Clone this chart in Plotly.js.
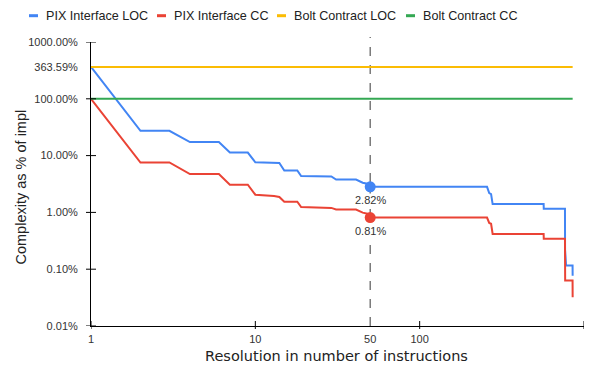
<!DOCTYPE html>
<html>
<head>
<meta charset="utf-8">
<script src="https://cdn.plot.ly/plotly-3.0.1.min.js"></script>
<style>html,body{margin:0;padding:0;background:#fff;}#chart{width:596px;height:365px;}</style>
</head>
<body>
<div id="chart"></div>
<script>
// ---- data ----
var seriesNames = ["PIX Interface LOC", "PIX Interface CC", "Bolt Contract LOC", "Bolt Contract CC"];
var seriesColors = ["#4285F4", "#EA4335", "#FBBC04", "#34A853"];

var pixLocX = [1, 2, 3, 4, 6, 7, 9, 10, 14, 15, 18, 19, 29, 31, 41, 45, 48, 50, 257, 265, 272, 278, 568, 569, 766, 767, 778, 852, 853];
var pixLocY = [363.59, 27.3, 27.3, 17.3, 17.3, 11.3, 11.3, 7.6, 7.4, 5.47, 5.47, 4.36, 4.3, 3.8, 3.78, 3.33, 3.2, 2.82, 2.82, 2.19, 2.1, 1.40, 1.40, 1.16, 1.16, 0.22, 0.116, 0.116, 0.077];

var pixCcX = [1, 2, 3, 4, 6, 7, 9, 10, 13, 14, 15, 18, 19, 29, 31, 41, 45, 48, 50, 257, 265, 272, 278, 568, 569, 766, 768, 852, 853];
var pixCcY = [100, 7.56, 7.56, 4.73, 4.73, 3.07, 3.07, 2.05, 1.95, 1.87, 1.54, 1.54, 1.24, 1.2, 1.13, 1.12, 0.99, 0.95, 0.81, 0.81, 0.652, 0.63, 0.417, 0.417, 0.345, 0.345, 0.063, 0.063, 0.032];

var boltX = [1, 853];
var boltLocY = [363.59, 363.59];
var boltCcY = [100, 100];

var markerX = [50, 50];
var markerY = [2.82, 0.81];
var markerLabels = ["2.82%", "0.81%"];
var markerColors = ["#4285F4", "#EA4335"];

var cutoffX = 50;

var xTickVals = [1, 10, 50, 100, 1000];
var xTickText = ["1", "10", "50", "100", "1000"];
var xTickMarks = [1, 10, 100, 1000];
var yTickVals = [0.01, 0.1, 1, 10, 100, 363.59, 1000];
var yTickText = ["0.01%", "0.10%", "1.00%", "10.00%", "100.00%", "363.59%", "1000.00%"];
var yTickMarks = [0.01, 0.1, 1, 10, 100, 1000];

var xTitle = "Resolution in number of instructions";
var yTitle = "Complexity as % of impl";

// ---- layout geometry ----
var W = 596, H = 365;
var M = {l: 91, r: 12, t: 42, b: 39};
var plotW = W - M.l - M.r, plotH = H - M.t - M.b;
function px2paperX(px) { return (px - M.l) / plotW; }
function px2paperY(py) { return (H - M.b - py) / plotH; }

var FONT = "Liberation Sans, Arial, sans-serif";

var traces = [
  {x: pixLocX, y: pixLocY, name: seriesNames[0], mode: "lines", line: {color: seriesColors[0], width: 2}, showlegend: false},
  {x: pixCcX, y: pixCcY, name: seriesNames[1], mode: "lines", line: {color: seriesColors[1], width: 2}, showlegend: false},
  {x: boltX, y: boltLocY, name: seriesNames[2], mode: "lines", line: {color: seriesColors[2], width: 2}, showlegend: false},
  {x: boltX, y: boltCcY, name: seriesNames[3], mode: "lines", line: {color: seriesColors[3], width: 2}, showlegend: false},
  {x: markerX, y: markerY, mode: "markers", name: "cutoff",
   marker: {color: markerColors, size: 11}, showlegend: false, hoverinfo: "skip"}
];

var shapes = [];
// dashed cutoff line
shapes.push({type: "line", xref: "x", yref: "paper", x0: cutoffX, x1: cutoffX, y0: 0, y1: 1.018,
  line: {color: "#666", width: 1.3, dash: "dash"}, layer: "below"});
// crossing tick marks
xTickMarks.forEach(function (v) {
  shapes.push({type: "line", xref: "x", yref: "paper", x0: v, x1: v, y0: -3 / plotH, y1: 5 / plotH,
    line: {color: "#000", width: 1}});
});
yTickMarks.forEach(function (v) {
  shapes.push({type: "line", xref: "paper", yref: "y", x0: -5 / plotW, x1: 5 / plotW, y0: v, y1: v,
    line: {color: "#000", width: 1}});
});

var annotations = [];
// value labels under the cutoff markers
markerLabels.forEach(function (t, i) {
  annotations.push({xref: "x", yref: "y", x: Math.log10(markerX[i]), y: Math.log10(markerY[i]),
    xanchor: "center", yanchor: "top", yshift: -6, text: t, showarrow: false,
    bgcolor: "#fff", borderpad: 0, font: {family: FONT, size: 11, color: "#333"}});
});

// custom legend
var legendSymPx = [29, 157, 277, 406];
var legendY = px2paperY(15.7);
seriesNames.forEach(function (name, i) {
  var x0 = legendSymPx[i];
  shapes.push({type: "line", xref: "paper", yref: "paper", x0: px2paperX(x0), x1: px2paperX(x0 + 9),
    y0: legendY, y1: legendY, line: {color: seriesColors[i], width: 3}});
  annotations.push({xref: "paper", yref: "paper", x: px2paperX(x0 + 15), y: legendY, xanchor: "left", yanchor: "middle",
    text: name, showarrow: false, font: {family: FONT, size: 12.6, color: "#222"}});
});

// axis titles
annotations.push({xref: "paper", yref: "paper", x: px2paperX(21), y: px2paperY(187.5), xanchor: "center", yanchor: "middle",
  textangle: -90, text: yTitle, showarrow: false, font: {family: FONT, size: 14.5, color: "#222"}});
annotations.push({xref: "paper", yref: "paper", x: px2paperX(336), y: px2paperY(364.5), xanchor: "center", yanchor: "bottom",
  text: xTitle, showarrow: false, borderpad: 0, font: {family: "DejaVu Sans", size: 14.5, color: "#222"}});

var layout = {
  width: W, height: H,
  margin: M,
  paper_bgcolor: "#fff", plot_bgcolor: "#fff",
  showlegend: false,
  font: {family: FONT, size: 11, color: "#333"},
  xaxis: {
    type: "log", range: [0, 3],
    tickvals: xTickVals, ticktext: xTickText,
    ticks: "outside", ticklen: 3, tickcolor: "rgba(0,0,0,0)",
    showline: true, linecolor: "#000", linewidth: 1,
    showgrid: false, zeroline: false,
    tickfont: {family: FONT, size: 11, color: "#333"}
  },
  yaxis: {
    type: "log", range: [-2, 3],
    tickvals: yTickVals, ticktext: yTickText,
    ticks: "outside", ticklen: 10, tickcolor: "rgba(0,0,0,0)",
    showline: true, linecolor: "#000", linewidth: 1,
    showgrid: false, zeroline: false,
    tickfont: {family: FONT, size: 11, color: "#333"}
  },
  shapes: shapes,
  annotations: annotations
};

Plotly.newPlot("chart", traces, layout, {displayModeBar: false, responsive: false});
</script>
</body>
</html>
